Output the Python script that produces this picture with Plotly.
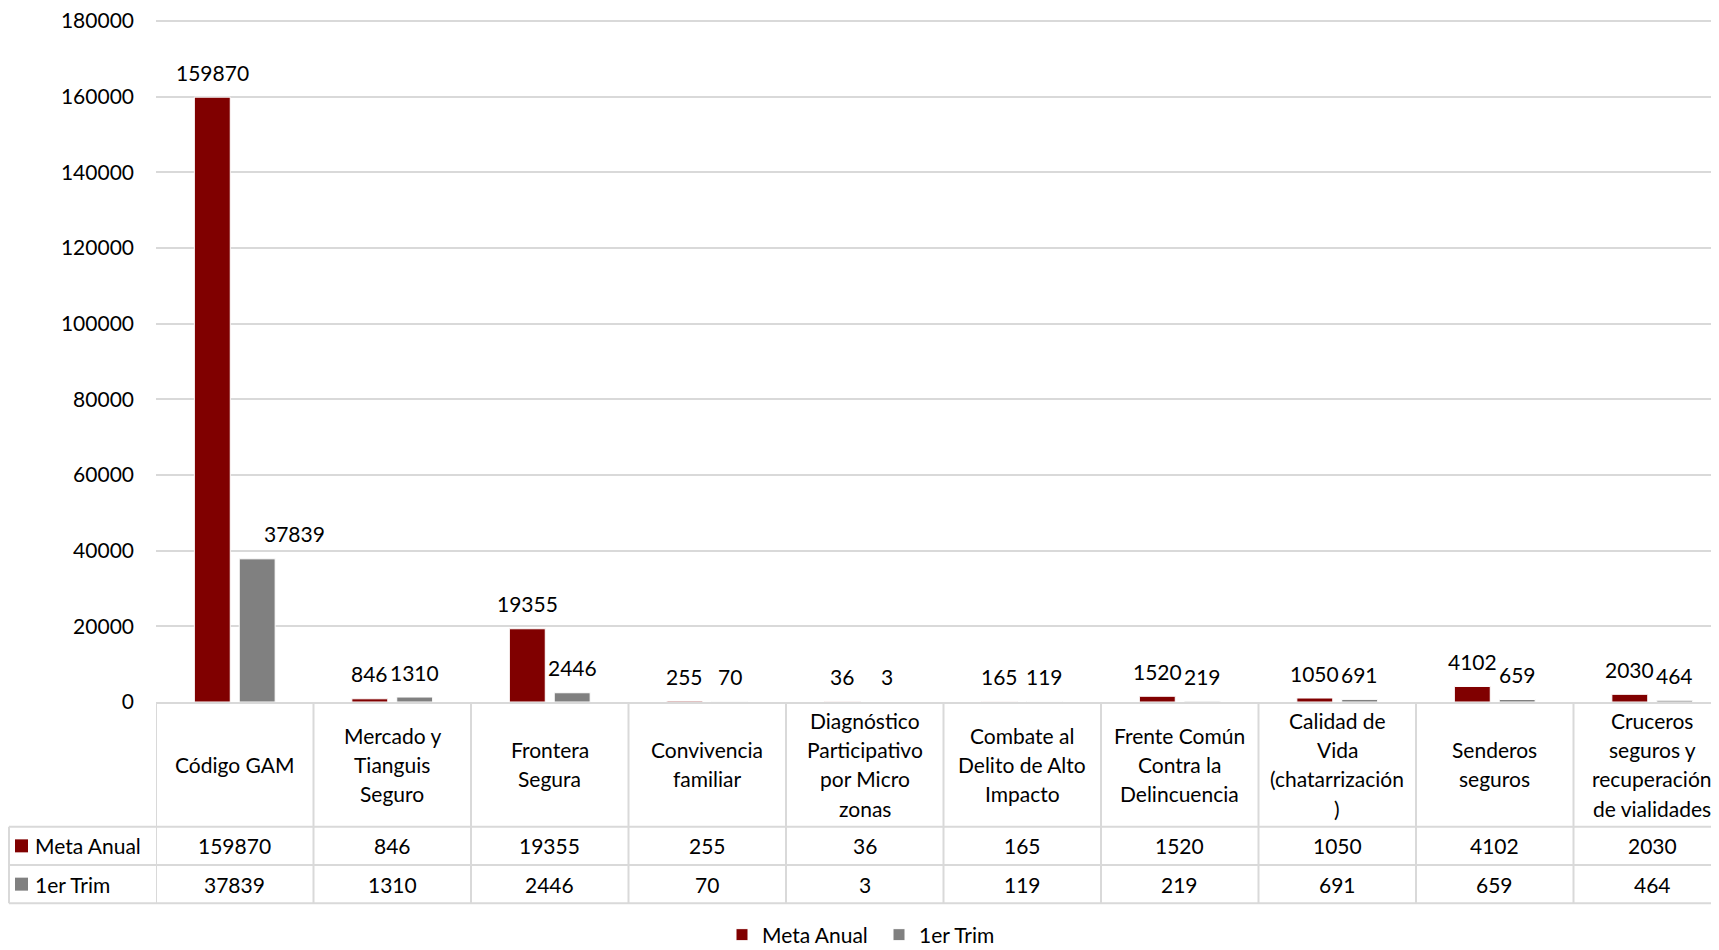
import plotly.graph_objects as go

# ---------------- data ----------------
categories = ["Código GAM", "Mercado y Tianguis Seguro", "Frontera Segura",
              "Convivencia familiar", "Diagnóstico Participativo por Micro zonas",
              "Combate al Delito de Alto Impacto", "Frente Común Contra la Delincuencia",
              "Calidad de Vida (chatarrización )", "Senderos seguros",
              "Cruceros seguros y recuperación de vialidades"]
header_lines = [["Código GAM"], ["Mercado y", "Tianguis", "Seguro"], ["Frontera", "Segura"],
                ["Convivencia", "familiar"], ["Diagnóstico", "Participativo", "por Micro", "zonas"],
                ["Combate al", "Delito de Alto", "Impacto"], ["Frente Común", "Contra la", "Delincuencia"],
                ["Calidad de", "Vida", "(chatarrización", ")"], ["Senderos", "seguros"],
                ["Cruceros", "seguros y", "recuperación", "de vialidades"]]
meta_anual = [159870, 846, 19355, 255, 36, 165, 1520, 1050, 4102, 2030]
primer_trim = [37839, 1310, 2446, 70, 3, 119, 219, 691, 659, 464]
series_names = ["Meta Anual", "1er Trim"]
y_ticks = [0, 20000, 40000, 60000, 80000, 100000, 120000, 140000, 160000, 180000]

# ---------------- styling / layout (pixel positions in figure coords) ----------------
W, H = 1711, 942          # page body adds an 8px margin
ML, MR, MT = 148, 0, 11
PB = 694                  # pixel y of the value axis zero line
MB = H - PB
PL = ML
PW, PH = W - ML - MR, PB - MT
COL_W = 157.5
C_META = "#800000"
C_TRIM = "#808080"
GRID = "#d9d9d9"
FONT = "Lato"
FS = 21
label_nudge = {(1, 0): 37}   # (series, category) -> x shift in px for a moved label
Y_MAX = 180000 * (PH / (PH - 2))  # keep the top gridline 2px inside the plot area


def ypx(p):
    return (PB - p) / PH


def xpx(p):
    return (p - PL) / PW


fig = go.Figure()
series = [meta_anual, primer_trim]
colors = [C_META, C_TRIM]
for name, vals, col in zip(series_names, series, colors):
    fig.add_trace(go.Bar(x=categories, y=vals, name=name,
                         marker=dict(color=col, line=dict(color="white", width=1))))

annotations = []
shapes = []

for s, (vals, xs) in enumerate(zip(series, [-22.5, 22.5])):
    for i, (c, v) in enumerate(zip(categories, vals)):
        annotations.append(dict(x=c, y=v, xref="x", yref="y", text=str(v), showarrow=False,
                                xshift=xs + label_nudge.get((s, i), 0), yshift=25, yanchor="middle",
                                font=dict(family=FONT, size=FS, color="black")))

# ---------- data table ----------
HDR_TOP, HDR_BOT = PB, 818.7
ROW1_BOT, ROW2_BOT = 857.0, 895.3
TABLE_LEFT = 1
LINE_SP = 29.2
line_style = dict(color=GRID, width=2)

n = len(categories)
for i in range(n + 1):
    shapes.append(dict(type="line", xref="x", yref="paper", x0=i - 0.5, x1=i - 0.5,
                       y0=ypx(HDR_TOP), y1=ypx(ROW2_BOT), line=line_style))
shapes.append(dict(type="line", xref="paper", yref="paper", x0=xpx(TABLE_LEFT), x1=xpx(TABLE_LEFT),
                   y0=ypx(HDR_BOT), y1=ypx(ROW2_BOT), line=line_style))
for yy in [HDR_BOT, ROW1_BOT, ROW2_BOT]:
    shapes.append(dict(type="line", xref="paper", yref="paper", x0=xpx(TABLE_LEFT), x1=1.01,
                       y0=ypx(yy), y1=ypx(yy), line=line_style))

hdr_c = (HDR_TOP + HDR_BOT) / 2
for c, lines in zip(categories, header_lines):
    nl = len(lines)
    for k, ln in enumerate(lines):
        yc = hdr_c + (k - (nl - 1) / 2) * LINE_SP
        annotations.append(dict(x=c, y=ypx(yc), xref="x", yref="paper", text=ln, showarrow=False,
                                yanchor="middle", xanchor="center",
                                font=dict(family=FONT, size=FS, color="black")))

row_centers = [(HDR_BOT + ROW1_BOT) / 2, (ROW1_BOT + ROW2_BOT) / 2]
for vals, yc in zip(series, row_centers):
    for c, v in zip(categories, vals):
        annotations.append(dict(x=c, y=ypx(yc), xref="x", yref="paper", text=str(v), showarrow=False,
                                yanchor="middle", xanchor="center",
                                font=dict(family=FONT, size=FS, color="black")))

for name, col, yc in zip(series_names, colors, row_centers):
    shapes.append(dict(type="rect", xref="paper", yref="paper", x0=xpx(7), x1=xpx(20),
                       y0=ypx(yc - 6.5), y1=ypx(yc + 6.5), fillcolor=col, line=dict(width=0)))
    annotations.append(dict(x=xpx(25), y=ypx(yc), xref="paper", yref="paper", text=name,
                            showarrow=False, xanchor="left", yanchor="middle",
                            font=dict(family=FONT, size=FS, color="black")))

fig.update_layout(
    width=W, height=H,
    margin=dict(l=ML, r=MR, t=MT, b=MB, autoexpand=False),
    paper_bgcolor="white", plot_bgcolor="white",
    barmode="group", bargap=0.43, bargroupgap=0.2,
    font=dict(family=FONT, size=FS, color="black"),
    xaxis=dict(range=[-0.5, -0.5 + PW / COL_W], showticklabels=False, showgrid=False,
               showline=True, linecolor=GRID, linewidth=2, ticks="", zeroline=False),
    yaxis=dict(range=[0, Y_MAX], tickvals=y_ticks, ticktext=[str(t) for t in y_ticks],
               showgrid=True, gridcolor=GRID, gridwidth=2, showline=False, zeroline=False,
               ticks="", ticklabelstandoff=21, ticklabeloverflow="allow",
               tickfont=dict(family=FONT, size=FS, color="black")),
    showlegend=True,
    legend=dict(orientation="h", x=xpx(714), xanchor="left", y=ypx(927), yanchor="middle",
                font=dict(family=FONT, size=FS, color="black"), entrywidth=112,
                bgcolor="rgba(0,0,0,0)", borderwidth=0, itemclick=False),
    annotations=annotations, shapes=shapes,
)

fig.write_html("out.html")
